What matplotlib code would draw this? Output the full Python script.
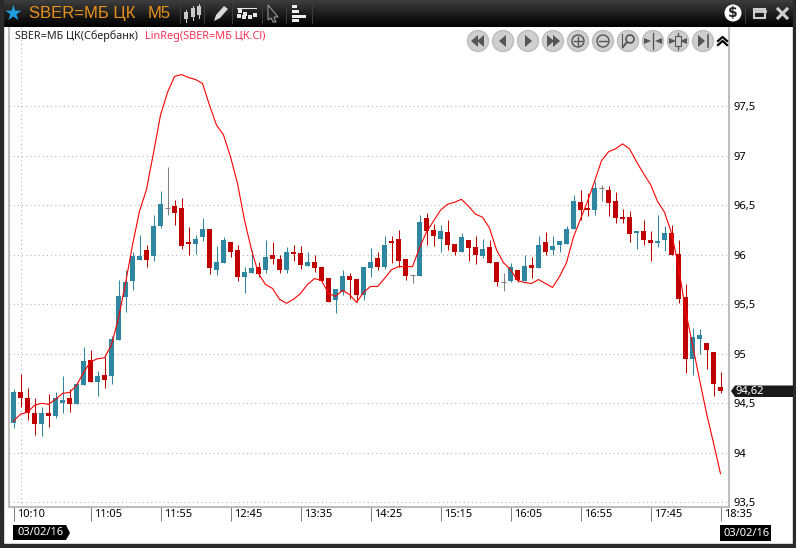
import numpy as np
import matplotlib
matplotlib.use("Agg")
import matplotlib.pyplot as plt
from matplotlib.patches import Circle, Polygon, Rectangle
from matplotlib.transforms import ScaledTranslation

plt.rcParams["font.family"] = ["Noto Sans", "DejaVu Sans"]

# candles, one per 5 min bar
opens = [94.30, 94.61, 94.55, 94.40, 94.29, 94.40, 94.37, 94.50, 94.55, 94.49,
         94.68, 94.94, 94.72, 94.79, 94.78, 95.14, 95.57, 95.74, 95.95, 96.05,
         95.99, 96.29, 96.47, 96.49, 96.47, 96.13, 96.11, 96.18, 96.26, 95.85,
         95.92, 96.13, 96.05, 95.78, 95.82, 95.88, 95.85, 96.00, 95.96, 95.85,
         96.03, 96.02, 95.89, 95.93, 95.88, 95.77, 95.54, 95.62, 95.79, 95.76,
         95.59, 95.87, 95.97, 95.88, 96.14, 96.16, 95.96, 95.80, 95.79, 96.37,
         96.25, 96.16, 96.23, 96.11, 96.03, 96.15, 96.08, 95.99, 96.08, 95.93,
         95.73, 95.74, 95.85, 95.74, 95.90, 95.87, 96.13, 96.05, 96.10, 96.11,
         96.26, 96.53, 96.47, 96.45, 96.67, 96.65, 96.54, 96.38, 96.38, 96.22,
         96.24, 96.15, 96.12, 96.15, 96.22, 96.01, 95.57, 94.95, 95.15, 95.11,
         95.02, 94.66]
highs = [94.64, 94.80, 94.65, 94.55, 94.46, 94.59, 94.61, 94.78, 94.64, 94.72,
         95.07, 95.04, 94.83, 94.97, 95.18, 95.75, 95.85, 96.03, 96.20, 96.10,
         96.40, 96.64, 96.89, 96.55, 96.57, 96.28, 96.20, 96.37, 96.26, 96.09,
         96.18, 96.13, 96.10, 95.88, 96.05, 95.93, 96.15, 96.13, 96.00, 96.08,
         96.10, 96.09, 96.03, 96.00, 95.88, 95.77, 95.65, 95.85, 95.82, 95.76,
         95.88, 96.07, 96.03, 96.19, 96.19, 96.25, 95.96, 95.80, 96.40, 96.42,
         96.31, 96.30, 96.35, 96.11, 96.22, 96.15, 96.19, 96.16, 96.15, 95.93,
         95.82, 95.92, 95.85, 96.00, 95.98, 96.19, 96.23, 96.19, 96.14, 96.29,
         96.60, 96.65, 96.62, 96.74, 96.70, 96.69, 96.63, 96.46, 96.44, 96.24,
         96.35, 96.24, 96.40, 96.29, 96.30, 96.15, 95.70, 95.26, 95.25, 95.11,
         95.02, 94.82]
lows = [94.25, 94.46, 94.33, 94.18, 94.17, 94.26, 94.35, 94.40, 94.41, 94.49,
        94.68, 94.72, 94.57, 94.65, 94.69, 95.14, 95.42, 95.64, 95.95, 95.88,
        95.94, 96.27, 96.40, 96.30, 96.06, 96.00, 96.01, 96.14, 95.81, 95.80,
        95.92, 95.98, 95.74, 95.61, 95.82, 95.78, 95.82, 95.91, 95.82, 95.82,
        95.94, 95.86, 95.89, 95.83, 95.73, 95.52, 95.41, 95.59, 95.55, 95.52,
        95.54, 95.78, 95.85, 95.86, 95.92, 95.88, 95.75, 95.71, 95.79, 96.10,
        96.09, 96.03, 96.05, 96.00, 96.03, 95.94, 95.91, 95.97, 95.92, 95.68,
        95.63, 95.72, 95.72, 95.74, 95.77, 95.87, 96.00, 96.00, 96.03, 96.11,
        96.26, 96.35, 96.39, 96.40, 96.54, 96.39, 96.32, 96.32, 96.13, 96.06,
        96.10, 95.94, 96.08, 96.04, 96.00, 95.51, 94.81, 94.79, 95.00, 94.85,
        94.57, 94.60]
closes = [94.61, 94.55, 94.40, 94.29, 94.40, 94.37, 94.55, 94.53, 94.49, 94.69,
          94.93, 94.72, 94.78, 94.74, 95.15, 95.58, 95.72, 95.99, 95.99, 95.95,
          96.29, 96.51, 96.47, 96.42, 96.09, 96.11, 96.16, 96.26, 95.87, 95.93,
          96.15, 96.03, 95.78, 95.83, 95.87, 95.81, 95.98, 95.96, 95.85, 96.03,
          96.01, 95.90, 95.93, 95.87, 95.74, 95.52, 95.65, 95.79, 95.75, 95.59,
          95.88, 95.93, 95.88, 96.10, 96.12, 95.94, 95.79, 95.80, 96.33, 96.24,
          96.19, 96.24, 96.10, 96.03, 96.18, 96.07, 96.00, 96.06, 95.92, 95.73,
          95.73, 95.88, 95.75, 95.89, 95.87, 96.10, 96.03, 96.09, 96.14, 96.26,
          96.54, 96.45, 96.45, 96.67, 96.67, 96.52, 96.37, 96.36, 96.21, 96.24,
          96.15, 96.12, 96.14, 96.22, 96.00, 95.55, 94.95, 95.17, 95.19, 95.04,
          94.69, 94.62]
linreg = [94.32, 94.39, 94.41, 94.48, 94.50, 94.49, 94.54, 94.60, 94.61, 94.68,
          94.81, 94.92, 94.95, 94.96, 95.09, 95.36, 95.71, 96.10, 96.44, 96.66,
          97.03, 97.41, 97.64, 97.80, 97.82, 97.79, 97.77, 97.73, 97.51, 97.31,
          97.21, 96.99, 96.72, 96.35, 96.05, 95.81, 95.70, 95.66, 95.55, 95.51,
          95.55, 95.61, 95.70, 95.76, 95.74, 95.61, 95.58, 95.64, 95.60, 95.52,
          95.62, 95.68, 95.68, 95.76, 95.85, 95.88, 95.88, 95.88, 96.07, 96.23,
          96.34, 96.45, 96.51, 96.53, 96.56, 96.49, 96.41, 96.38, 96.27, 96.05,
          95.92, 95.85, 95.74, 95.72, 95.71, 95.75, 95.71, 95.67, 95.78, 95.92,
          96.18, 96.36, 96.54, 96.74, 96.95, 97.04, 97.07, 97.12, 97.07, 96.94,
          96.82, 96.71, 96.54, 96.43, 96.22, 95.88, 95.44, 95.09, 94.74, 94.40,
          94.10, 93.79]

y_ticks = [93.5, 94, 94.5, 95, 95.5, 96, 96.5, 97, 97.5]
y_labels = ["93,5", "94", "94,5", "95", "95,5", "96", "96,5", "97", "97,5"]
time_bars = [0, 11, 21, 31, 41, 51, 61, 71, 81, 91, 101]
time_labels = ["10:10", "11:05", "11:55", "12:45", "13:35", "14:25", "15:15",
               "16:05", "16:55", "17:45", "18:35"]
grid_bars = [1, 11, 21, 31, 41, 51, 61, 71, 81, 91, 101]

TEAL = "#2f86a0"
RED = "#c00000"
GREY = "#808080"
W, H = 796, 548

fig = plt.figure(figsize=(W / 100, H / 100), dpi=100, facecolor="white")


def px_axes(left, top, right, bottom):
    return fig.add_axes([left / W, 1 - bottom / H, (right - left) / W, (bottom - top) / H])


# chart area
ax = px_axes(9, 27, 729, 507)
ax.set_xlim((9 - 13.5) / 7, (729 - 13.5) / 7)
ax.set_ylim(93.453, 98.300)

x = np.arange(len(opens))
o, h, l, c = map(np.array, (opens, highs, lows, closes))
colors = np.where(c > o, TEAL, np.where(c < o, RED, GREY))

ax.vlines(x, l, h, colors=colors, linewidth=0.75, zorder=3)
flat = c == o
ax.bar(x[~flat], np.abs(c - o)[~flat], bottom=np.minimum(o, c)[~flat], width=5 / 7,
       color=colors[~flat], linewidth=0, zorder=4)
ax.hlines(o[flat], x[flat] - 2.5 / 7, x[flat] + 2.5 / 7, colors=GREY, linewidth=0.75, zorder=4)
ax.plot(x, linreg, color="#ff0000", linewidth=0.8, zorder=5)

ax.yaxis.tick_right()
ax.set_yticks(y_ticks, y_labels)
ax.set_xticks(time_bars, time_labels, ha="left")
ax.set_xticks(grid_bars, minor=True)
ax.grid(True, axis="y", color="#b4b4b4", linestyle=(0, (1, 3)), linewidth=0.75)
ax.grid(True, axis="x", which="minor", color="#b4b4b4", linestyle=(0, (1, 3)), linewidth=0.75)
ax.grid(False, axis="x", which="major")
ax.set_axisbelow(True)
ax.tick_params(axis="y", length=0, pad=3.5, labelsize=8, labelcolor="black")
ax.tick_params(axis="x", which="major", length=10, width=0.75, color=GREY, pad=-8.5,
               labelsize=8, labelcolor="black")
ax.tick_params(axis="x", which="minor", length=0)
shift = ScaledTranslation(4 / 100, 0, fig.dpi_scale_trans)
for lab in ax.get_xticklabels():
    lab.set_transform(lab.get_transform() + shift)
for side, sp in ax.spines.items():
    sp.set_visible(side != "top")
    sp.set_color("#bdbdbd")
    sp.set_linewidth(1.5)

# window chrome and toolbar in pixel coordinates
ui = fig.add_axes([0, 0, 1, 1], facecolor="none", zorder=10)
ui.set_xlim(0, W)
ui.set_ylim(H, 0)
ui.axis("off")

gradient = np.linspace(0.24, 0.0, 27).reshape(-1, 1)
ui.imshow(gradient, cmap="gray", vmin=0, vmax=1, extent=(0, W, 27, 0), aspect="auto", zorder=1)
ui.set_xlim(0, W)
ui.set_ylim(H, 0)
ui.add_patch(Rectangle((0, 0), 2.5, H, color="#2a2a2a", zorder=2))
ui.add_patch(Rectangle((793, 0), 3, H, color="#2a2a2a", zorder=2))
ui.add_patch(Rectangle((0, 544), W, 4, color="#2a2a2a", zorder=2))

ui.text(13, 13.5, "★", color="#1c9fe0", fontsize=15, ha="center", va="center",
        family="DejaVu Sans", zorder=3)
ui.text(29, 13.5, "SBER=МБ ЦК", color="#e8901a", fontsize=12, va="center",
        family="Liberation Sans", zorder=3)
ui.text(148, 13.5, "М5", color="#e8901a", fontsize=12, va="center",
        family="Liberation Sans", zorder=3)
for sep in [180, 204, 232, 262, 286, 312, 745]:
    ui.plot([sep, sep], [4, 23], color="#3c3c3c", linewidth=0.75, zorder=3)

# toolbar icons
for cx, top, bot in [(186, 12, 19), (193, 8, 17), (199, 6, 15)]:
    ui.add_patch(Rectangle((cx - 2, top), 4, bot - top, fc="#c8c8c8", ec="none", zorder=3))
    ui.plot([cx, cx], [top - 2, bot + 3], color="#c8c8c8", linewidth=0.75, zorder=3)
ui.add_patch(Polygon([[214, 21], [216, 15], [224, 6], [228, 9], [220, 18]], fc="#d8d8d8", ec="none", zorder=3))
for ix, iy in [(238, 9), (243, 12), (248, 15), (253, 13), (237, 14), (242, 15)]:
    ui.add_patch(Rectangle((ix, iy), 4, 4, fc="#e6e6e6", ec="none", zorder=3))
ui.plot([237, 256], [8, 8], color="#e6e6e6", linewidth=0.75, zorder=3)
ui.add_patch(Polygon([[268, 5], [278, 17], [274, 17], [276, 22], [273, 22], [271, 18], [268, 20]],
                     fc="#222222", ec="#9a9a9a", linewidth=0.75, zorder=3))
for iy, iw in [(5, 5), (10, 7), (15, 14), (19, 7)]:
    ui.add_patch(Rectangle((292, iy), iw, 3, fc="#eeeeee", ec="none", zorder=3))

ui.add_patch(Circle((733, 13), 8.5, fc="white", ec="none", zorder=3))
ui.text(733, 13, "$", fontsize=10, fontweight="bold", color="#222222", ha="center", va="center",
        family="DejaVu Sans", zorder=4)
ui.add_patch(Rectangle((754, 9), 11, 9, fc="none", ec="#cfcfcf", linewidth=1.5, zorder=3))
ui.plot([754, 765], [11, 11], color="#cfcfcf", linewidth=2, zorder=3)
ui.plot([778, 787], [9, 18], color="#cfcfcf", linewidth=2.2, zorder=3)
ui.plot([778, 787], [18, 9], color="#cfcfcf", linewidth=2.2, zorder=3)

# legend line
ui.text(15, 36.5, "SBER=МБ ЦК(Сбербанк)", fontsize=7.8, color="#222222", va="center", zorder=3)
ui.text(145, 36.5, "LinReg(SBER=МБ ЦК.Cl)", fontsize=7.9, color="#ff3355", va="center", zorder=3)

# navigation buttons
nav_x = [478, 503, 528, 553, 578, 603, 628, 653, 678, 703]
g = "#555555"
for cx in nav_x:
    ui.add_patch(Circle((cx, 41), 10.5, fc="#cfcfcf", ec="#bdbdbd", linewidth=1, zorder=3))


def tri(cx, direction, half=6):
    ui.add_patch(Polygon([[cx - 4 * direction, 41], [cx + 3 * direction, 41 - half], [cx + 3 * direction, 41 + half]],
                         fc=g, ec="none", zorder=4))


tri(475, 1); tri(481, 1); tri(503, 1); tri(528, -1); tri(550, -1); tri(556, -1); tri(701, -1)
ui.plot([708, 708], [35, 47], color=g, linewidth=1.2, zorder=4)
ui.add_patch(Circle((578, 41), 6, fc="none", ec=g, linewidth=1, zorder=4))
ui.plot([574, 582], [41, 41], color=g, linewidth=1, zorder=4)
ui.plot([578, 578], [37, 45], color=g, linewidth=1, zorder=4)
ui.add_patch(Circle((603, 41), 6, fc="none", ec=g, linewidth=1, zorder=4))
ui.plot([599, 607], [41, 41], color=g, linewidth=1, zorder=4)
ui.add_patch(Circle((630, 39), 4, fc="none", ec=g, linewidth=1.2, zorder=4))
ui.plot([627, 623], [42, 47], color=g, linewidth=1.4, zorder=4)
ui.plot([622, 622], [34, 47], color=g, linewidth=0.8, zorder=4)
for cx in [653, 678]:
    ui.plot([cx, cx], [33, 49], color=g, linewidth=1, zorder=4)
    tri(cx - 6, -1, 3)
    tri(cx + 6, 1, 3)
ui.add_patch(Rectangle((675, 36), 6, 10, fc="#cfcfcf", ec=g, linewidth=0.8, zorder=5))
for cy in [37, 41]:
    ui.plot([718, 722.5, 727], [cy + 4, cy, cy + 4], color="black", linewidth=1.6, zorder=4)

# price and date flags
ui.add_patch(Polygon([[731, 391], [735, 385.5], [793, 385.5], [793, 397], [735, 397]], fc="#1a1a1a",
                     ec="none", zorder=3))
ui.text(736, 391.5, "94,62", color="white", fontsize=8, va="center", zorder=4)
ui.add_patch(Polygon([[13, 525], [66, 525], [70, 533], [66, 540], [13, 540]], fc="black", ec="none", zorder=3))
ui.text(17, 532.5, "03/02/16", color="white", fontsize=8, va="center", zorder=4)
ui.add_patch(Rectangle((720, 525), 51, 16, fc="black", ec="none", zorder=3))
ui.text(724, 533, "03/02/16", color="white", fontsize=8, va="center", zorder=4)

fig.savefig("out.png", dpi=100, facecolor="white")
